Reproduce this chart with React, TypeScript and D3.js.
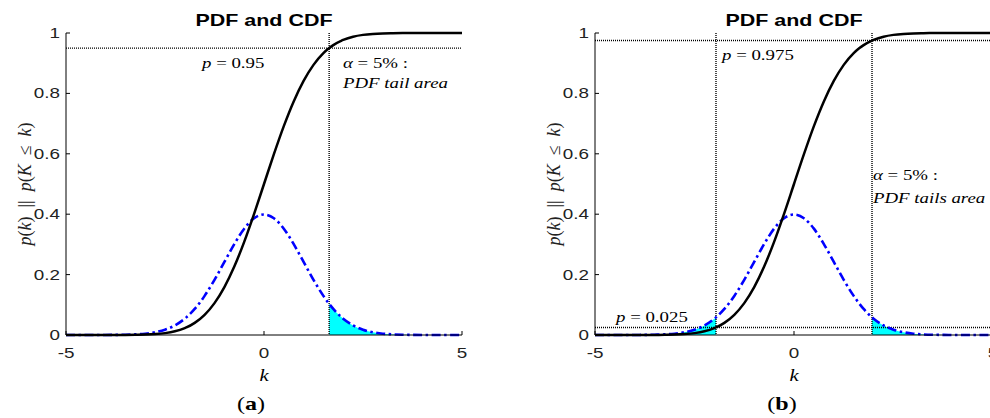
import React from 'react';
import * as d3 from 'd3';

// Standard-normal values
const kValues = [-5, -4.75, -4.5, -4.25, -4, -3.75, -3.5, -3.25, -3, -2.75, -2.5, -2.25, -2, -1.96, -1.75, -1.5, -1.25, -1, -0.75, -0.5, -0.25, 0, 0.25, 0.5, 0.75, 1, 1.25, 1.5, 1.645, 1.75, 1.96, 2, 2.25, 2.5, 2.75, 3, 3.25, 3.5, 3.75, 4, 4.25, 4.5, 4.75, 5];
const pdfValues = [0, 0, 0, 0, 0.0001, 0.0004, 0.0009, 0.002, 0.0044, 0.0091, 0.0175, 0.0317, 0.054, 0.0584, 0.0863, 0.1295, 0.1826, 0.242, 0.3011, 0.3521, 0.3867, 0.3989, 0.3867, 0.3521, 0.3011, 0.242, 0.1826, 0.1295, 0.1031, 0.0863, 0.0584, 0.054, 0.0317, 0.0175, 0.0091, 0.0044, 0.002, 0.0009, 0.0004, 0.0001, 0, 0, 0, 0];
const cdfValues = [0, 0, 0, 0, 0, 0.0001, 0.0002, 0.0006, 0.0013, 0.003, 0.0062, 0.0122, 0.0228, 0.025, 0.0401, 0.0668, 0.1056, 0.1587, 0.2266, 0.3085, 0.4013, 0.5, 0.5987, 0.6915, 0.7734, 0.8413, 0.8944, 0.9332, 0.95, 0.9599, 0.975, 0.9772, 0.9878, 0.9938, 0.997, 0.9987, 0.9994, 0.9998, 0.9999, 1, 1, 1, 1, 1];

const xTicks = [-5, 0, 5];
const yTicks = [0, 0.2, 0.4, 0.6, 0.8, 1];
const yTickLabels = ['0', '0.2', '0.4', '0.6', '0.8', '1'];

const critA = [1.645];
const probA = [0.95];
const tailsA = [[1.645, 5]];
const critB = [-1.96, 1.96];
const probB = [0.975, 0.025];
const tailsB = [[-5, -1.96], [1.96, 5]];

const SX = 1.3;
const SANS = '"Liberation Sans", Arial, sans-serif';
const SERIF = '"Liberation Serif", "Times New Roman", serif';

const points = kValues.map((k, i) => ({ k, pdf: pdfValues[i], cdf: cdfValues[i] }));

function T({ x, y, anchor = 'start', size = 14.5, family = SERIF, weight = 'normal', fill = '#000', children }: any) {
  return (
    <text
      transform={`translate(${x},${y}) scale(${SX},1)`}
      textAnchor={anchor}
      fontSize={size}
      fontFamily={family}
      fontWeight={weight}
      fill={fill}
    >
      {children}
    </text>
  );
}

function Panel({ x0, x1, crit, prob, tails, letter, letterX, texts }: any) {
  const yTop = 33;
  const yBot = 335;
  const x = d3.scaleLinear().domain([-5, 5]).range([x0, x1]);
  const y = d3.scaleLinear().domain([0, 1]).range([yBot, yTop]);
  const line = (acc: (d: any) => number) =>
    d3.line<any>().x((d) => x(d.k)).y((d) => y(acc(d))).curve(d3.curveMonotoneX);
  const area = d3
    .area<any>()
    .x((d) => x(d.k))
    .y0(y(0))
    .y1((d) => y(d.pdf))
    .curve(d3.curveMonotoneX);
  const cx = (x0 + x1) / 2;
  return (
    <g>
      {tails.map((t: number[], i: number) => (
        <path key={i} d={area(points.filter((p) => p.k >= t[0] && p.k <= t[1])) || ''} fill="#00FFFF" stroke="none" />
      ))}
      {prob.map((p: number, i: number) => (
        <line key={'h' + i} x1={x0} x2={x1} y1={y(p)} y2={y(p)} stroke="#000" strokeWidth={1.4} strokeDasharray="1 1" />
      ))}
      {crit.map((c: number, i: number) => (
        <line key={'v' + i} x1={x(c)} x2={x(c)} y1={yTop} y2={yBot} stroke="#000" strokeWidth={1.4} strokeDasharray="1 1" />
      ))}
      <path d={line((d) => d.pdf)(points) || ''} fill="none" stroke="#0000FF" strokeWidth={2.6} strokeDasharray="9 3.5 2.5 3.5" />
      <path d={line((d) => d.cdf)(points) || ''} fill="none" stroke="#000" strokeWidth={2.5} />
      {/* axes */}
      <line x1={x0} x2={x0} y1={yTop} y2={yBot} stroke="#000" strokeWidth={1} />
      <line x1={x0} x2={x1} y1={yBot} y2={yBot} stroke="#000" strokeWidth={1} />
      {yTicks.map((t, i) => (
        <g key={'yt' + i}>
          <line x1={x0} x2={x0 + 4} y1={y(t)} y2={y(t)} stroke="#000" />
          <T x={x0 - 6} y={y(t) + 5} anchor="end" size={14.5} family={SANS} fill="#222">{yTickLabels[i]}</T>
        </g>
      ))}
      {xTicks.map((t, i) => (
        <g key={'xt' + i}>
          <line x1={x(t)} x2={x(t)} y1={yBot} y2={yBot - 4} stroke="#000" />
          <T x={x(t)} y={358} anchor="middle" size={14.5} family={SANS} fill="#222">{String(t)}</T>
        </g>
      ))}
      <T x={cx} y={26} anchor="middle" size={16.5} family={SANS} weight="bold">PDF and CDF</T>
      <T x={cx} y={381} anchor="middle" size={16}><tspan fontStyle="italic">k</tspan></T>
      <T x={letterX} y={410} anchor="middle" size={18.5}>(<tspan fontWeight="bold">{letter}</tspan>)</T>
      <text
        transform={`translate(${x0 - 35},184) rotate(-90)`}
        textAnchor="middle"
        fontSize={18}
        fontFamily={SERIF}
        fill="#222"
        style={{ whiteSpace: 'pre' }}
      >
        <tspan fontStyle="italic">p</tspan>(<tspan fontStyle="italic">k</tspan>)  ||  <tspan fontStyle="italic">p</tspan>(<tspan fontStyle="italic">K</tspan>  ≤  <tspan fontStyle="italic">k</tspan>)
      </text>
      {texts}
    </g>
  );
}

export default function App() {
  return (
    <svg width={990} height={418} style={{ position: 'absolute', left: 0, top: 0, background: '#fff' }}>
      <rect width={990} height={418} fill="#fff" />
      <Panel
        x0={66}
        x1={462}
        crit={critA}
        prob={probA}
        tails={tailsA}
        letter="a"
        letterX={251}
        texts={
          <g>
            <T x={202} y={68}><tspan fontStyle="italic">p</tspan> = 0.95</T>
            <T x={343} y={68}><tspan fontStyle="italic">α</tspan> = 5% :</T>
            <T x={343} y={88}><tspan fontStyle="italic">PDF tail area</tspan></T>
          </g>
        }
      />
      <Panel
        x0={595}
        x1={993}
        crit={critB}
        prob={probB}
        tails={tailsB}
        letter="b"
        letterX={782}
        texts={
          <g>
            <T x={722} y={60}><tspan fontStyle="italic">p</tspan> = 0.975</T>
            <T x={873} y={180}><tspan fontStyle="italic">α</tspan> = 5% :</T>
            <T x={873} y={203}><tspan fontStyle="italic">PDF tails area</tspan></T>
            <T x={616} y={322}><tspan fontStyle="italic">p</tspan> = 0.025</T>
          </g>
        }
      />
    </svg>
  );
}
